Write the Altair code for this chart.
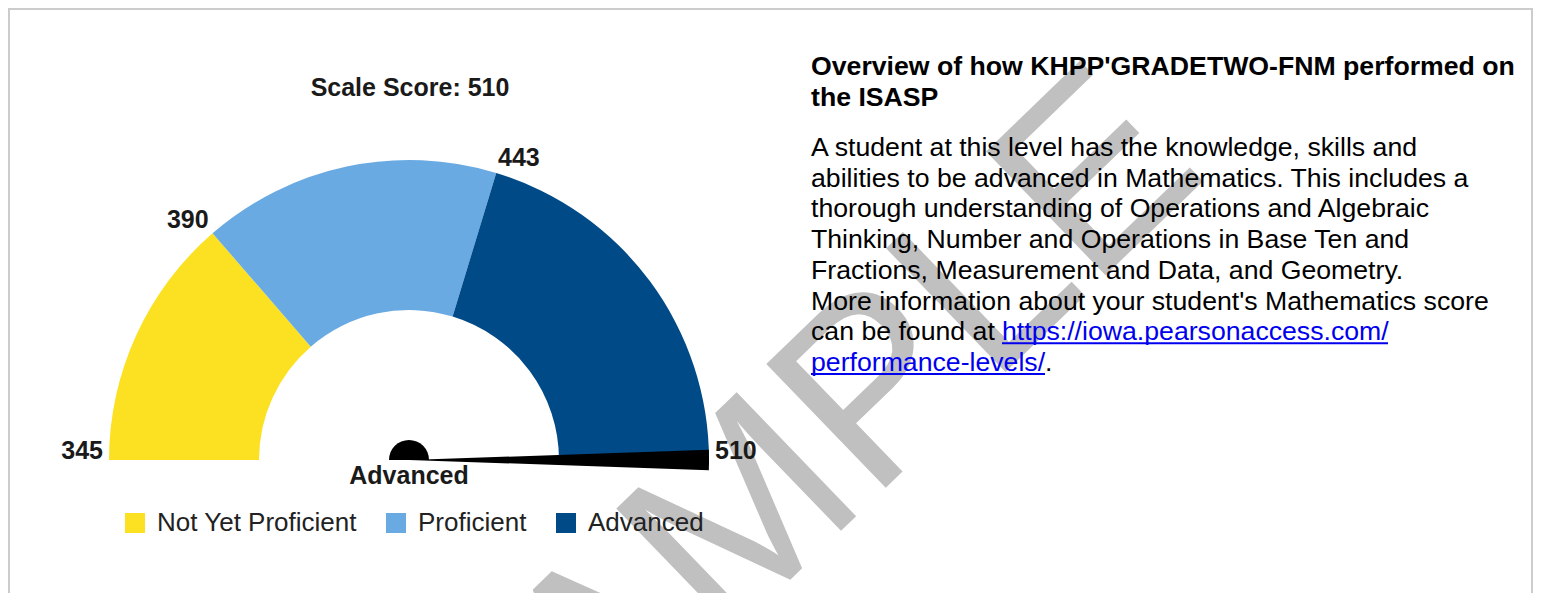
import math
import altair as alt
import pandas as pd

# ---------------- data ----------------
levels = ["Not Yet Proficient", "Proficient", "Advanced"]
level_starts = [345, 390, 443]
level_ends = [390, 443, 510]
level_colors = ["#FBE122", "#6AAAE2", "#004A87"]
tick_values = [345, 390, 443, 510]
score = 510
score_level = "Advanced"

heading_lines = ["Overview of how KHPP'GRADETWO-FNM performed on", "the ISASP"]
body_lines = [
    "A student at this level has the knowledge, skills and",
    "abilities to be advanced in Mathematics. This includes a",
    "thorough understanding of Operations and Algebraic",
    "Thinking, Number and Operations in Base Ten and",
    "Fractions, Measurement and Data, and Geometry.",
    "More information about your student's Mathematics score",
    "can be found at",
]
link_lines = ["https://iowa.pearsonaccess.com/", "performance-levels/"]
watermark = ["SAMPLE"]

# ---------------- layout (chart pixel coords) ----------------
W, H = 1525, 585
CX, CY = 401, 452          # gauge centre
R_OUT, R_IN = 300, 150
FONT = "Liberation Sans, Arial, sans-serif"
TX = 803                   # right text block left
HEAD_Y = 67
BODY_Y = 148
LH = 30.7
BODY_FS = 26.67

theta_scale = alt.Scale(domain=[min(tick_values), max(tick_values)],
                        range=[1.5 * math.pi, 2.5 * math.pi])

gauge_df = pd.DataFrame({"level": levels, "start": level_starts, "end": level_ends})
ticks_df = pd.DataFrame({"value": tick_values})
score_df = pd.DataFrame({"score": [score], "level": [score_level],
                         "title": [f"Scale Score: {score}"]})

frame = alt.Chart(pd.DataFrame({"a": [0]})).mark_rect(
    fill=None, stroke="#CCCCCC", strokeWidth=2
).encode(x=alt.value(1), x2=alt.value(W - 1), y=alt.value(1), y2=alt.value(H + 200))

wm = alt.Chart(pd.DataFrame({"t": watermark})).mark_text(
    font=FONT, fontSize=250, color="#C0C0C0", angle=316, align="center", baseline="alphabetic"
).encode(text="t:N", x=alt.value(838), y=alt.value(518))

arcs = alt.Chart(gauge_df).mark_arc(radius=R_OUT, radius2=R_IN).encode(
    theta=alt.Theta("start:Q", scale=theta_scale, stack=None),
    theta2="end:Q",
    color=alt.Color(
        "level:N",
        scale=alt.Scale(domain=levels, range=level_colors),
        legend=alt.Legend(
            title=None, orient="none", legendX=114, legendY=502, direction="horizontal",
            symbolType="square", symbolSize=400, symbolStrokeWidth=0,
            labelFont=FONT, labelFontSize=26, labelColor="#222222", labelLimit=500,
            labelOffset=9, columnPadding=26, padding=0,
        ),
    ),
    x=alt.value(CX), y=alt.value(CY),
)

needle = alt.Chart(score_df).mark_arc(
    radius=R_OUT, color="black", thetaOffset=-0.034, theta2Offset=0.034
).encode(
    theta=alt.Theta("score:Q", scale=theta_scale, stack=None),
    theta2=alt.Theta2("score:Q"),
    x=alt.value(CX), y=alt.value(CY),
)

hub = alt.Chart(score_df).mark_arc(
    radius=20, theta=1.5 * math.pi, theta2=2.5 * math.pi, color="black"
).encode(x=alt.value(CX), y=alt.value(CY))

mid = (min(tick_values) + max(tick_values)) / 2
lab_common = dict(font=FONT, fontSize=25, fontWeight="bold", color="#1a1a1a",
                  radius=306, baseline="alphabetic", dy=-1)
labels_l = alt.Chart(ticks_df).transform_filter(alt.datum.value < mid).mark_text(
    align="right", **lab_common
).encode(theta=alt.Theta("value:Q", scale=theta_scale, stack=None), text="value:Q",
         x=alt.value(CX), y=alt.value(CY))
labels_r = alt.Chart(ticks_df).transform_filter(alt.datum.value >= mid).mark_text(
    align="left", **lab_common
).encode(theta=alt.Theta("value:Q", scale=theta_scale, stack=None), text="value:Q",
         x=alt.value(CX), y=alt.value(CY))

title = alt.Chart(score_df).mark_text(
    font=FONT, fontSize=25, fontWeight="bold", color="#1a1a1a", align="center", baseline="middle"
).encode(text="title:N", x=alt.value(CX + 1), y=alt.value(80))

level_lbl = alt.Chart(score_df).mark_text(
    font=FONT, fontSize=25, fontWeight="bold", color="#1a1a1a", align="center", baseline="middle"
).encode(text="level:N", x=alt.value(CX), y=alt.value(468))

heading = alt.Chart(pd.DataFrame({"t": ["\n".join(heading_lines)]})).mark_text(
    font=FONT, fontSize=BODY_FS, fontWeight="bold", color="black", align="left",
    baseline="alphabetic", lineBreak="\n", lineHeight=31
).encode(text="t:N", x=alt.value(TX), y=alt.value(HEAD_Y))

body = alt.Chart(pd.DataFrame({"t": ["\n".join(body_lines)]})).mark_text(
    font=FONT, fontSize=BODY_FS, color="black", align="left",
    baseline="alphabetic", lineBreak="\n", lineHeight=LH
).encode(text="t:N", x=alt.value(TX), y=alt.value(BODY_Y))

LINK1_X = 994
link1 = alt.Chart(pd.DataFrame({"t": [link_lines[0]]})).mark_text(
    font=FONT, fontSize=BODY_FS, color="#0000EE", align="left", baseline="alphabetic"
).encode(text="t:N", x=alt.value(LINK1_X), y=alt.value(BODY_Y + 6 * LH))
link2 = alt.Chart(pd.DataFrame({"t": [link_lines[1]]})).mark_text(
    font=FONT, fontSize=BODY_FS, color="#0000EE", align="left", baseline="alphabetic"
).encode(text="t:N", x=alt.value(TX), y=alt.value(BODY_Y + 7 * LH))
period = alt.Chart(pd.DataFrame({"t": ["."]})).mark_text(
    font=FONT, fontSize=BODY_FS, color="black", align="left", baseline="alphabetic"
).encode(text="t:N", x=alt.value(TX + 234), y=alt.value(BODY_Y + 7 * LH))
ul1 = alt.Chart(pd.DataFrame({"a": [0]})).mark_rule(color="#0000EE", strokeWidth=2).encode(
    x=alt.value(LINK1_X), x2=alt.value(LINK1_X + 386), y=alt.value(BODY_Y + 6 * LH + 3))
ul2 = alt.Chart(pd.DataFrame({"a": [0]})).mark_rule(color="#0000EE", strokeWidth=2).encode(
    x=alt.value(TX), x2=alt.value(TX + 234), y=alt.value(BODY_Y + 7 * LH + 3))

chart = alt.layer(
    frame, wm, arcs, needle, hub, labels_l, labels_r, title, level_lbl,
    heading, body, link1, link2, period, ul1, ul2
).properties(
    width=W, height=H, padding=0, autosize=alt.AutoSizeParams(type="none"),
    background="white",
).configure_view(stroke=None)

chart.save("out.html", embed_options={"renderer": "svg", "actions": False})
